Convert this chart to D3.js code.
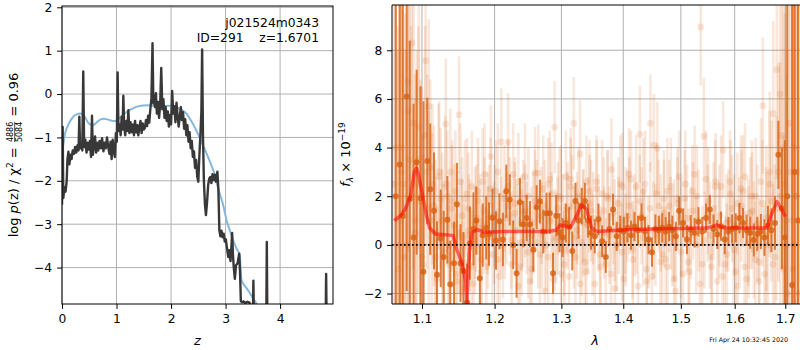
<!DOCTYPE html>
<html>
<head>
<meta charset="utf-8">
<script src="https://cdnjs.cloudflare.com/ajax/libs/d3/7.8.5/d3.min.js"></script>
<style>
    body { margin: 0; background: #fff; }
    svg text { font-family: "DejaVu Sans", sans-serif; }
</style>
</head>
<body>
<div id="chart"></div>
<script>
// ---- left panel: log p(z) ----
const zGrid = [0.000,0.012,0.024,0.045,0.065,0.086,0.100,0.118,0.135,0.155,0.175,0.196,0.220,0.240,0.262,0.285,0.303,0.318,0.332,0.352,
    0.372,0.390,0.406,0.428,0.450,0.470,0.490,0.512,0.532,0.550,0.566,0.586,0.606,0.626,0.646,0.666,0.690,0.712,0.735,0.760,
    0.780,0.802,0.825,0.848,0.870,0.890,0.910,0.930,0.950,0.970,0.988,1.005,1.020,1.036,1.056,1.076,1.095,1.110,1.125,1.140,
    1.160,1.180,1.200,1.217,1.236,1.256,1.278,1.300,1.320,1.340,1.360,1.380,1.400,1.420,1.440,1.460,1.480,1.500,1.520,1.540,
    1.560,1.580,1.600,1.620,1.640,1.660,1.676,1.692,1.706,1.722,1.740,1.760,1.780,1.800,1.820,1.840,1.860,1.880,1.900,1.920,
    1.940,1.960,1.980,2.000,2.020,2.040,2.060,2.080,2.100,2.120,2.140,2.160,2.180,2.200,2.220,2.240,2.260,2.280,2.300,2.320,
    2.340,2.360,2.380,2.400,2.420,2.440,2.460,2.480,2.500,2.520,2.540,2.556,2.570,2.586,2.602,2.622,2.640,2.660,2.680,2.700,
    2.720,2.740,2.760,2.780,2.800,2.820,2.850,2.868,2.886,2.905,2.925,2.945,2.965,2.985,3.005,3.020,3.050,3.070,3.090,3.110,
    3.120,3.135,3.150,3.170,3.190,3.220,3.250,3.265,3.280,3.300,3.330,3.360,3.400,3.440,3.470,3.495,3.510,3.525,3.745,3.756,
    3.768,4.832,4.844,4.856,4.970];
const logPz = [-2.55,-0.76,-2.40,-2.15,-2.25,-2.00,-1.50,-1.33,-1.62,-1.40,-1.50,-1.30,-1.38,-1.22,-1.35,-1.18,-1.30,-0.52,-1.25,-1.12,
    -1.30,0.52,-1.22,-1.05,-1.35,-1.12,-1.28,-1.08,-1.45,-0.50,-1.40,-1.18,-0.98,-1.35,-1.12,-1.30,-1.08,-1.25,-1.02,-1.32,
    -1.12,-1.25,-1.00,-1.22,-1.38,-1.10,-1.50,-1.05,-1.30,-1.45,-0.90,-1.10,0.50,-0.85,-0.70,-0.95,-0.52,-0.82,-0.04,-0.75,
    -0.95,-0.62,-0.85,-0.37,-0.90,-0.65,-0.88,-0.70,-0.95,-0.62,-0.88,-0.72,-0.95,-0.75,-0.62,-0.90,-0.68,-0.82,-0.78,-0.60,
    -0.74,-0.50,-0.66,-0.35,-0.10,1.17,-0.22,-0.05,-0.30,0.02,-0.45,-0.18,-0.55,-0.25,0.60,-0.35,-0.12,-0.55,-0.30,-0.62,
    -0.40,-0.75,-0.48,-0.70,0.07,-0.45,-0.28,-0.65,-0.20,-0.50,-0.75,-0.52,-0.30,-0.60,-0.42,-0.80,-0.58,-0.95,-0.72,-1.10,
    -0.88,-1.25,-1.08,-1.45,-1.32,-1.70,-1.52,-1.90,-2.02,-1.40,-0.90,-0.40,1.03,-1.00,-2.00,-2.55,-2.79,-2.50,-2.10,-1.95,
    -1.91,-2.05,-1.85,-1.98,-1.86,-2.02,-1.79,-2.20,-3.14,-3.28,-3.15,-3.30,-3.22,-3.40,-3.35,-3.50,-3.76,-3.60,-3.85,-3.45,
    -3.20,-3.70,-3.99,-4.26,-3.95,-3.90,-3.68,-4.10,-4.77,-4.80,-4.78,-4.82,-4.79,-4.81,-5.40,-5.60,-4.30,-5.60,-5.60,-3.41,
    -5.60,-5.60,-4.15,-5.60,-5.60];

const zPrior = [0.00,0.02,0.05,0.10,0.15,0.20,0.27,0.33,0.38,0.43,0.48,0.53,0.58,0.64,0.70,0.77,0.85,0.93,0.98,1.05,
    1.12,1.19,1.27,1.35,1.45,1.55,1.65,1.75,1.85,1.95,2.04,2.12,2.20,2.29,2.36,2.44,2.53,2.62,2.72,2.78,
    2.87,2.96,3.02,3.08,3.14,3.20,3.26,3.29,3.40,3.50,3.58,3.65];
const logPrior = [-1.45,-1.22,-0.95,-0.75,-0.62,-0.53,-0.47,-0.45,-0.47,-0.55,-0.66,-0.71,-0.71,-0.65,-0.59,-0.57,-0.59,-0.62,-0.62,-0.56,
    -0.48,-0.41,-0.35,-0.30,-0.27,-0.26,-0.27,-0.28,-0.28,-0.27,-0.28,-0.32,-0.37,-0.46,-0.60,-0.78,-1.02,-1.28,-1.58,-1.78,
    -2.20,-2.58,-2.92,-3.15,-3.38,-3.56,-3.72,-4.28,-4.50,-4.70,-4.86,-5.00];

const zTicks = [0, 1, 2, 3, 4];
const pzTicks = [-4, -3, -2, -1, 0, 1, 2];

// ---- right panel: spectrum ----
const wave = [1.066,1.071,1.075,1.080,1.084,1.089,1.093,1.098,1.102,1.107,1.111,1.116,1.120,1.125,1.129,1.134,1.138,1.143,1.147,1.152,
    1.156,1.161,1.165,1.170,1.174,1.179,1.183,1.188,1.192,1.197,
    1.202,1.207,1.212,1.217,1.222,1.227,1.232,1.237,1.242,1.247,1.252,1.257,1.262,1.267,1.272,1.277,1.282,1.287,1.292,1.297,
    1.302,1.307,1.312,1.317,1.322,1.327,1.332,1.337,1.342,1.347,
    1.353,1.359,1.365,1.371,1.377,1.383,1.389,1.395,1.401,1.407,1.413,1.419,1.425,1.431,1.437,1.443,1.449,1.455,1.461,1.467,
    1.473,1.479,1.485,1.491,1.497,
    1.504,1.511,1.518,1.525,1.532,1.539,1.546,1.553,1.560,1.567,1.574,1.581,1.588,1.595,1.602,1.609,1.616,1.623,1.630,1.637,
    1.644,1.651,1.658,1.665,1.672,
    1.679,1.686,1.693,1.699,1.704,1.714,1.719,1.726];

// binned spectrum
const flux = [2.0,3.3,1.19,6.1,1.89,0.3,3.4,1.92,-1.1,3.45,2.29,1.4,-1.23,0.27,-0.5,1.03,-1.62,-0.75,1.67,-0.75,
    -1.07,-2.37,0.07,0.66,1.0,-1.37,0.4,0.7,0.45,1.12,
    0.18,0.97,0.22,2.2,1.85,0.0,-1.17,1.75,0.85,1.1,0.85,-0.2,1.55,1.78,0.55,1.3,1.3,-1.17,1.2,0.5,
    0.3,0.9,0.75,-0.25,1.8,1.0,1.6,1.8,1.0,0.5,
    0.35,1.05,0.15,-0.5,0.65,1.45,0.35,0.6,0.55,0.7,0.4,0.75,0.6,1.1,0.55,0.22,-0.3,0.65,0.6,0.7,
    0.55,0.75,0.6,0.35,1.4,
    0.9,0.22,0.63,0.5,0.95,0.55,1.1,1.45,0.65,0.43,0.77,0.22,0.55,0.65,0.7,1.1,0.9,0.6,0.5,0.2,
    0.45,0.55,0.3,0.8,0.6,
    0.9,3.7,1.5,0.3,2.0,-1.65,3.0,1.0];
const fluxErr = [10,9,9,8,6.5,5.5,3.8,4.6,7,2.6,2.7,2.4,2.2,2.0,1.9,1.8,1.8,1.7,1.7,1.6,
    1.6,1.6,1.5,1.5,1.4,1.4,1.3,1.3,1.3,1.2,
    1.2,1.15,1.1,1.1,1.05,1.0,1.0,1.0,0.95,0.95,0.95,0.9,0.9,0.9,0.9,0.85,0.85,0.85,0.85,0.8,
    0.8,0.8,0.8,0.8,0.75,0.75,0.75,0.75,0.7,0.7,
    0.7,0.65,0.65,0.65,0.65,0.65,0.6,0.6,0.6,0.6,0.6,0.6,0.6,0.6,0.6,0.6,0.6,0.6,0.6,0.6,
    0.6,0.6,0.6,0.6,0.6,
    0.6,0.6,0.6,0.6,0.6,0.6,0.6,0.6,0.6,0.6,0.6,0.6,0.6,0.6,0.6,0.62,0.62,0.64,0.66,0.68,
    0.7,0.72,0.75,0.8,0.9,
    1.1,1.4,2.5,4.0,15,20,20,20];

// individual exposures (faint)
const fluxExpA = [2.5,-1.0,4.0,1.5,6.7,8.3,0.5,4.84,2.0,7.57,5.68,2.5,0.5,3.0,1.0,4.97,0.0,1.8,2.2,5.35,
    0.3,-1.8,1.5,2.4,0.2,1.8,-0.6,2.9,0.9,3.63,1.2,3.0,4.23,0.5,4.23,-0.8,1.7,2.6,0.1,1.4,
    2.0,-1.0,2.95,2.95,0.4,1.6,-0.5,2.1,4.84,0.8,1.9,-0.2,1.0,2.7,5.0,0.6,3.74,1.2,-1.1,2.2,
    1.1,2.3,-0.9,0.5,1.9,3.1,-1.8,0.8,2.4,0.2,1.6,-0.6,0.7,4.55,2.2,-1.5,5.0,4.1,3.97,0.9,
    1.3,-0.9,2.4,0.6,1.7,0.7,2.5,-1.1,1.4,2.0,8.96,0.2,1.8,-0.5,2.6,1.2,3.9,-0.4,2.1,0.8,
    -1.7,1.6,2.8,0.1,1.4,2.0,-0.7,5.72,1.1,3.0,5.4,7.2,2.0,4.0,1.0,3.0,-1.0,2.0];
const fluxExpB = [0.0,3.0,-0.5,5.5,2.0,1.0,3.5,-0.5,4.5,1.5,1.0,-0.5,2.8,0.2,2.5,-0.8,1.5,-1.2,0.5,1.2,
    1.9,0.6,-0.9,0.9,2.2,-1.1,1.4,0.3,2.3,0.5,-0.6,0.8,1.9,2.4,0.2,1.3,-1.7,0.9,2.8,-0.3,
    0.4,1.8,0.1,1.2,-1.9,2.5,1.0,0.2,1.5,-1.2,-0.8,1.5,2.4,0.3,1.1,-1.6,0.9,2.6,1.7,0.0,
    2.6,-0.4,1.4,2.0,-1.2,0.6,1.7,-0.3,1.0,2.9,-0.2,2.4,1.8,0.3,-1.0,1.5,0.6,2.1,-0.7,1.9,
    2.2,0.9,-1.4,1.9,-0.3,1.9,-0.7,2.2,0.0,-1.6,4.47,1.3,-0.9,2.4,0.6,-1.3,0.9,2.6,-0.2,1.7,
    2.3,-0.9,0.5,2.0,-0.6,-1.5,1.7,0.4,2.5,-0.8,1.5,6.2,-1.0,0.0,5.0,0.0,2.0,-2.0];
const fluxExpC = [4.0,1.0,2.5,0.0,3.5,5.0,2.5,1.8,-0.8,3.0,3.2,1.6,-1.4,1.9,-0.3,2.0,3.0,0.8,-1.5,2.6,
    -0.7,2.1,0.4,-1.6,1.1,0.7,2.6,-0.9,1.2,-0.4,2.2,-1.3,0.0,1.1,1.6,2.9,0.6,-0.9,1.3,0.7,
    -1.5,0.9,1.6,-0.4,2.3,0.0,2.7,-1.4,0.3,2.0,0.7,2.8,-1.3,1.6,-0.5,2.0,0.1,-0.7,0.8,1.4,
    -1.6,0.9,2.1,-0.8,0.4,1.3,0.0,2.5,-1.4,1.2,2.7,0.8,-1.7,1.2,2.5,0.1,-1.3,0.4,1.6,-0.4,
    -0.6,1.6,0.3,-1.9,2.8,-1.2,1.1,0.5,2.9,1.0,-0.8,2.7,0.4,1.5,-1.5,2.4,-0.8,1.0,1.5,-1.1,
    0.6,2.2,-1.4,1.3,0.2,0.9,2.6,-1.2,0.0,1.8,-0.5,3.0,4.5,2.5,-2.0,1.0,4.0,3.0];
const errExp = [9,9,8.5,8,7,6,5.5,5,4.5,4,3.6,3.3,3.0,2.9,2.8,2.7,2.6,2.5,2.5,2.4,
    2.4,2.3,2.3,2.3,2.2,2.2,2.2,2.1,2.1,2.1,2.1,2.0,2.2,1.9,2.0,2.1,1.9,2.0,2.2,1.9,
    2.0,2.1,1.9,2.0,2.2,1.9,2.0,2.1,1.9,2.0,2.2,1.9,2.0,2.1,1.9,2.0,2.2,1.9,2.0,2.1,
    1.9,2.0,2.2,1.9,2.0,2.1,1.9,2.0,2.2,1.9,2.0,2.1,1.9,2.0,2.2,1.9,2.0,2.1,1.9,2.0,
    2.2,1.9,2.0,2.1,1.9,2.0,2.2,1.9,2.0,2.1,2.4,2.0,2.2,1.9,2.0,2.1,2.0,2.1,2.2,2.1,
    2.2,2.3,2.2,2.3,2.4,2.4,2.6,2.8,3.0,3.3,3.8,4.5,5.5,7.0,10,12,12,12];

// model
const modelWave = [1.064,1.072,1.078,1.085,1.090,1.093,1.096,1.101,1.106,1.110,1.118,1.131,1.142,1.147,1.154,1.159,1.161,1.1625,1.164,1.168,
    1.175,1.187,1.211,1.252,1.278,1.292,1.298,1.314,1.324,1.332,1.340,1.348,1.357,1.406,1.463,1.548,1.566,1.579,1.663,1.671,
    1.683,1.690,1.700];
const modelFlux = [1.0,1.2,1.45,2.0,3.0,3.15,2.8,2.0,1.2,0.7,0.45,0.42,0.38,-0.2,-0.75,-1.45,-2.4,-1.2,-0.3,0.5,
    0.62,0.52,0.55,0.55,0.55,0.6,0.82,0.72,1.2,1.65,1.45,0.7,0.55,0.62,0.66,0.69,0.82,0.7,0.69,1.2,
    1.78,1.57,1.16];

const waveTicks = [1.1, 1.2, 1.3, 1.4, 1.5, 1.6, 1.7];
const fluxTicks = [-2, 0, 2, 4, 6, 8];


const width = 800;
const height = 350;

const viz = d3.select("#chart")
    .append("svg")
    .attr("width", width)
    .attr("height", height);

const minus = function(d) { return d < 0 ? "\u2212" + Math.abs(d) : String(d); };
const gridColor = "#b0b0b0";
const orange = "#d95f0e";
const tickFont = 12.3;
const tickLen = 4.9;

// Boxes
const L = {x0: 62, x1: 333, y0: 6, y1: 304};
const R = {x0: 392, x1: 800, y0: 5, y1: 304};

const defs = viz.append("defs");
defs.append("clipPath").attr("id", "clipL").append("rect")
    .attr("x", L.x0).attr("y", L.y0).attr("width", L.x1 - L.x0).attr("height", L.y1 - L.y0);
defs.append("clipPath").attr("id", "clipR").append("rect")
    .attr("x", R.x0).attr("y", R.y0).attr("width", R.x1 - R.x0).attr("height", R.y1 - R.y0);


// ================= LEFT PANEL =================
const zScale = d3.scaleLinear().domain([0, 4.97]).range([L.x0, L.x1]);
const pzScale = d3.scaleLinear().domain([-4.84, 2.03]).range([L.y1, L.y0]);

const gridL = viz.append("g").attr("stroke", gridColor).attr("stroke-width", 1);
gridL.selectAll(".gx").data(zTicks).enter().append("line")
    .attr("x1", function(d) { return zScale(d); })
    .attr("x2", function(d) { return zScale(d); })
    .attr("y1", L.y0).attr("y2", L.y1);
gridL.selectAll(".gy").data(pzTicks).enter().append("line")
    .attr("x1", L.x0).attr("x2", L.x1)
    .attr("y1", function(d) { return pzScale(d); })
    .attr("y2", function(d) { return pzScale(d); });

const plotL = viz.append("g").attr("clip-path", "url(#clipL)");

const priorLine = d3.line()
    .x(function(d, i) { return zScale(zPrior[i]); })
    .y(function(d) { return pzScale(d); })
    .curve(d3.curveMonotoneX);

plotL.append("path")
    .datum(logPrior)
    .attr("d", priorLine)
    .attr("fill", "none")
    .attr("stroke", "#86b7dc")
    .attr("stroke-width", 2);

const pzLine = d3.line()
    .x(function(d, i) { return zScale(zGrid[i]); })
    .y(function(d) { return pzScale(d); });

plotL.append("path")
    .datum(logPz)
    .attr("d", pzLine)
    .attr("fill", "none")
    .attr("stroke", "#383838")
    .attr("stroke-width", 2.4)
    .attr("stroke-linejoin", "round");

// Axes
viz.append("g")
    .attr("transform", `translate(0,${L.y1})`)
    .call(d3.axisBottom(zScale).tickValues(zTicks).tickSize(tickLen).tickPadding(5.2).tickFormat(minus))
    .call(function(g) { g.select(".domain").remove(); })
    .attr("font-family", "DejaVu Sans").attr("font-size", tickFont);

viz.append("g")
    .attr("transform", `translate(${L.x0},0)`)
    .call(d3.axisLeft(pzScale).tickValues(pzTicks).tickSize(tickLen).tickPadding(4.9).tickFormat(minus))
    .call(function(g) { g.select(".domain").remove(); })
    .attr("font-family", "DejaVu Sans").attr("font-size", tickFont);

viz.append("rect")
    .attr("x", L.x0).attr("y", L.y0)
    .attr("width", L.x1 - L.x0).attr("height", L.y1 - L.y0)
    .attr("fill", "none").attr("stroke", "#000").attr("stroke-width", 1);

// Annotation
viz.append("text")
    .attr("x", 319).attr("y", 27)
    .attr("text-anchor", "end").attr("font-size", 12.3)
    .text("j021524m0343");
viz.append("text")
    .attr("x", 319).attr("y", 42)
    .attr("text-anchor", "end").attr("font-size", 12.3)
    .attr("xml:space", "preserve").style("white-space", "pre")
    .text("ID=291    z=1.6701");

// Labels
viz.append("text")
    .attr("x", (L.x0 + L.x1) / 2).attr("y", 345)
    .attr("text-anchor", "middle").attr("font-size", 13).attr("font-style", "italic")
    .text("z");

const ylabL = viz.append("g");
const yl1 = ylabL.append("text").attr("font-size", 13);
yl1.append("tspan").text("log ");
yl1.append("tspan").attr("font-style", "italic").text("p");
yl1.append("tspan").text("(z) / \u03c7");
yl1.append("tspan").attr("font-size", 9).attr("dy", -5).text("2");
const w1 = yl1.node().getComputedTextLength();
const yEq1 = ylabL.append("text").attr("font-size", 13).attr("x", w1)
    .attr("xml:space", "preserve").style("white-space", "pre").text(" = ");
const w2 = w1 + yEq1.node().getComputedTextLength();
const num = ylabL.append("text").attr("font-size", 8).attr("x", w2 + 1).attr("y", -4.6).text("4886");
const den = ylabL.append("text").attr("font-size", 8).attr("x", w2 + 1).attr("y", 4.4).text("5084");
const wf = Math.max(num.node().getComputedTextLength(), den.node().getComputedTextLength());
ylabL.append("line").attr("x1", w2 + 1).attr("x2", w2 + 1 + wf)
    .attr("y1", -3.3).attr("y2", -3.3).attr("stroke", "#000").attr("stroke-width", 0.7);
const yEq2 = ylabL.append("text").attr("font-size", 13).attr("x", w2 + wf + 2)
    .attr("xml:space", "preserve").style("white-space", "pre").text(" = 0.96");
const wTot = w2 + wf + 2 + yEq2.node().getComputedTextLength();
ylabL.attr("transform", `translate(18,${(L.y0 + L.y1) / 2 + wTot / 2}) rotate(-90)`);


// ================= RIGHT PANEL =================
const wScale = d3.scaleLog().domain([1.0612, 1.7302]).range([R.x0, R.x1]);
const fScale = d3.scaleLinear().domain([-2.43, 9.86]).range([R.y1, R.y0]);

const gridR = viz.append("g").attr("stroke", gridColor).attr("stroke-width", 1);
gridR.selectAll(".gx").data(waveTicks).enter().append("line")
    .attr("x1", function(d) { return wScale(d); })
    .attr("x2", function(d) { return wScale(d); })
    .attr("y1", R.y0).attr("y2", R.y1);
gridR.selectAll(".gy").data(fluxTicks).enter().append("line")
    .attr("x1", R.x0).attr("x2", R.x1)
    .attr("y1", function(d) { return fScale(d); })
    .attr("y2", function(d) { return fScale(d); });

const plotR = viz.append("g").attr("clip-path", "url(#clipR)");

// faint exposures
const expSets = [fluxExpA, fluxExpB, fluxExpC];
const expShift = [-1.6, 1.6, 0];
expSets.forEach(function(set, k) {
    const g = plotR.append("g").attr("transform", `translate(${expShift[k]},0)`);
    g.selectAll("line").data(set).enter().append("line")
        .attr("x1", function(d, i) { return wScale(wave[i]); })
        .attr("x2", function(d, i) { return wScale(wave[i]); })
        .attr("y1", function(d, i) { return fScale(d - errExp[i]); })
        .attr("y2", function(d, i) { return fScale(d + errExp[i]); })
        .attr("stroke", orange).attr("stroke-opacity", 0.15).attr("stroke-width", 2.6);
    g.selectAll("circle").data(set).enter().append("circle")
        .attr("cx", function(d, i) { return wScale(wave[i]); })
        .attr("cy", function(d) { return fScale(d); })
        .attr("r", 3.4)
        .attr("fill", orange).attr("fill-opacity", 0.15);
});

// binned
plotR.append("g").selectAll("line").data(flux).enter().append("line")
    .attr("x1", function(d, i) { return wScale(wave[i]); })
    .attr("x2", function(d, i) { return wScale(wave[i]); })
    .attr("y1", function(d, i) { return fScale(d - fluxErr[i]); })
    .attr("y2", function(d, i) { return fScale(d + fluxErr[i]); })
    .attr("stroke", orange).attr("stroke-opacity", 0.8).attr("stroke-width", 2);
plotR.append("g").selectAll("circle").data(flux).enter().append("circle")
    .attr("cx", function(d, i) { return wScale(wave[i]); })
    .attr("cy", function(d) { return fScale(d); })
    .attr("r", 3)
    .attr("fill", orange).attr("fill-opacity", 0.8);

// model
const modelLine = d3.line()
    .x(function(d, i) { return wScale(modelWave[i]); })
    .y(function(d) { return fScale(d); });
plotR.append("path")
    .datum(modelFlux)
    .attr("d", modelLine)
    .attr("fill", "none")
    .attr("stroke", "#ff0000")
    .attr("stroke-opacity", 0.55)
    .attr("stroke-width", 3.5)
    .attr("stroke-linejoin", "round");

// zero line
plotR.append("line")
    .attr("x1", R.x0).attr("x2", R.x1)
    .attr("y1", fScale(0)).attr("y2", fScale(0))
    .attr("stroke", "#000").attr("stroke-width", 1.6)
    .attr("stroke-dasharray", "1.6,2.4");

// Axes
viz.append("g")
    .attr("transform", `translate(0,${R.y1})`)
    .call(d3.axisBottom(wScale).tickValues(waveTicks).tickSize(tickLen).tickPadding(5.2).tickFormat(d3.format(".1f")))
    .call(function(g) { g.select(".domain").remove(); })
    .attr("font-family", "DejaVu Sans").attr("font-size", tickFont);

viz.append("g")
    .attr("transform", `translate(${R.x0},0)`)
    .call(d3.axisLeft(fScale).tickValues(fluxTicks).tickSize(tickLen).tickPadding(4.9).tickFormat(minus))
    .call(function(g) { g.select(".domain").remove(); })
    .attr("font-family", "DejaVu Sans").attr("font-size", tickFont);

viz.append("path")
    .attr("d", `M${R.x1},${R.y0}H${R.x0}V${R.y1}H${R.x1}`)
    .attr("fill", "none").attr("stroke", "#000").attr("stroke-width", 1);

// Labels
viz.append("text")
    .attr("x", 595).attr("y", 345)
    .attr("text-anchor", "middle").attr("font-size", 13).attr("font-style", "italic")
    .text("\u03bb");

const ylabR = viz.append("text")
    .attr("transform", `translate(350,${(R.y0 + R.y1) / 2}) rotate(-90)`)
    .attr("text-anchor", "middle").attr("font-size", 13);
ylabR.append("tspan").attr("font-style", "italic").text("f");
ylabR.append("tspan").attr("font-style", "italic").attr("font-size", 9).attr("dy", 3).text("\u03bb");
ylabR.append("tspan").attr("dy", -3).text(" \u00d7 10");
ylabR.append("tspan").attr("font-size", 9).attr("dy", -5).text("\u221219");

// timestamp
viz.append("text")
    .attr("x", 788).attr("y", 342)
    .attr("text-anchor", "end").attr("font-size", 6.3)
    .text("Fri Apr 24 10:32:45 2020");
</script>
</body>
</html>
